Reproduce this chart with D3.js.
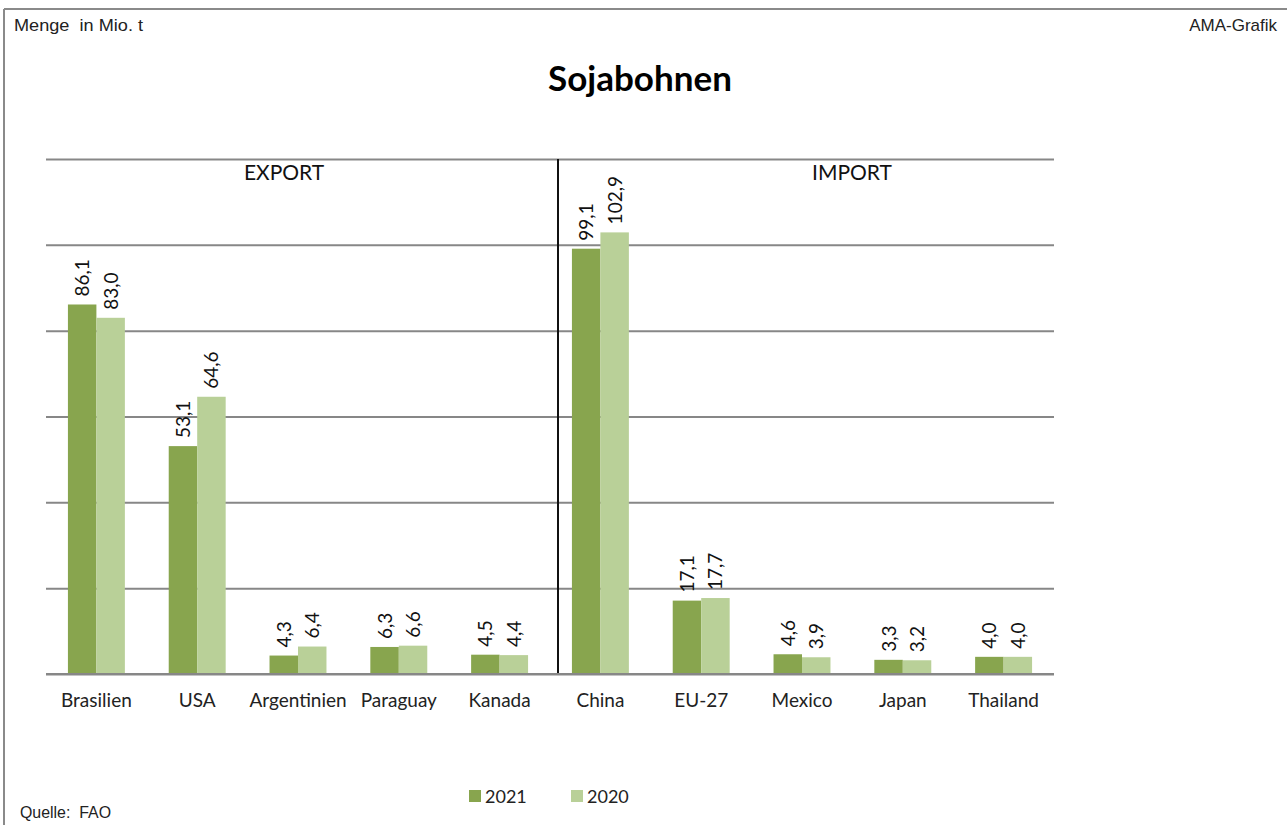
<!DOCTYPE html>
<html>
<head>
<meta charset="utf-8">
<script src="https://cdn.jsdelivr.net/npm/d3@7"></script>
<style>
  html, body { margin: 0; padding: 0; background: #fff; }
  svg { display: block; }
</style>
</head>
<body>
<svg id="chart" width="1287" height="825"></svg>
<script>
// ---- data ----
const categories = ["Brasilien", "USA", "Argentinien", "Paraguay", "Kanada",
                    "China", "EU-27", "Mexico", "Japan", "Thailand"];
const values2021 = [86.1, 53.1, 4.3, 6.3, 4.5, 99.1, 17.1, 4.6, 3.3, 4.0];
const values2020 = [83.0, 64.6, 6.4, 6.6, 4.4, 102.9, 17.7, 3.9, 3.2, 4.0];
const seriesNames = ["2021", "2020"];
const yTicks = [0, 20, 40, 60, 80, 100, 120];
const groupLabels = ["EXPORT", "IMPORT"];

const colors = { "2021": "#88a54e", "2020": "#b9d098" };
const fmt = v => v.toFixed(1).replace(".", ",");
const FONT = "Lato, 'Open Sans', sans-serif";
const ARIAL = "'Liberation Sans', Arial, sans-serif";

const svg = d3.select("#chart");

// frame
svg.append("line").attr("x1", 4).attr("x2", 1287).attr("y1", 9).attr("y2", 9)
  .attr("stroke", "#8a8a8a").attr("stroke-width", 2);
svg.append("line").attr("x1", 4).attr("x2", 4).attr("y1", 9).attr("y2", 825)
  .attr("stroke", "#8a8a8a").attr("stroke-width", 2);

// header texts
svg.append("text").attr("x", 14).attr("y", 31).attr("xml:space", "preserve").text("Menge  in Mio. t")
  .attr("font-family", ARIAL).attr("font-size", 17).attr("fill", "#222")
  .attr("textLength", 129).attr("lengthAdjust", "spacingAndGlyphs");
svg.append("text").attr("x", 1277).attr("y", 31).attr("text-anchor", "end").text("AMA-Grafik")
  .attr("font-family", ARIAL).attr("font-size", 17).attr("fill", "#222");
svg.append("text").attr("x", 640).attr("y", 91).attr("text-anchor", "middle").text("Sojabohnen")
  .attr("font-family", FONT).attr("font-weight", "bold").attr("font-size", 35).attr("fill", "#000");
svg.append("text").attr("x", 20).attr("y", 818).attr("xml:space", "preserve").text("Quelle:  FAO")
  .attr("font-family", ARIAL).attr("font-size", 16).attr("fill", "#222")
  .attr("textLength", 91).attr("lengthAdjust", "spacingAndGlyphs");

// scales
const plot = { left: 46, right: 1054, top: 159, bottom: 674 };
const x = d3.scaleBand().domain(categories).range([plot.left, plot.right]).paddingInner(0).paddingOuter(0);
const x1 = d3.scaleBand().domain(seriesNames).range([0, x.bandwidth()]).paddingOuter(0.77).paddingInner(0);
const y = d3.scaleLinear().domain([0, 120]).range([plot.bottom, plot.top]);

// gridlines via axis
const yAxis = d3.axisLeft(y).tickValues(yTicks).tickSize(-(plot.right - plot.left)).tickFormat("");
const gy = svg.append("g").attr("transform", `translate(${plot.left},0)`).call(yAxis);
gy.select(".domain").remove();
gy.selectAll(".tick line").attr("stroke", "#878787").attr("stroke-width", 2);

// divider between export and import
const divX = x("China") + 8;
svg.append("line").attr("x1", divX).attr("x2", divX).attr("y1", y(120)).attr("y2", y(0))
  .attr("stroke", "#111").attr("stroke-width", 2);

// group labels
svg.append("text").attr("x", 284).attr("y", 180).attr("text-anchor", "middle").text(groupLabels[0])
  .attr("font-family", FONT).attr("font-size", 21).attr("fill", "#111");
svg.append("text").attr("x", 852).attr("y", 180).attr("text-anchor", "middle").text(groupLabels[1])
  .attr("font-family", FONT).attr("font-size", 21).attr("fill", "#111");

// bars
const rows = categories.map((c, i) => ({ cat: c, vals: [
  { s: "2021", v: values2021[i] }, { s: "2020", v: values2020[i] } ] }));

const groups = svg.append("g").selectAll("g").data(rows).join("g")
  .attr("transform", d => `translate(${x(d.cat)},0)`);

groups.selectAll("rect").data(d => d.vals).join("rect")
  .attr("x", d => x1(d.s))
  .attr("y", d => y(d.v))
  .attr("width", x1.bandwidth())
  .attr("height", d => y(0) - y(d.v))
  .attr("fill", d => colors[d.s]);

groups.selectAll("text.val").data(d => d.vals).join("text")
  .attr("class", "val")
  .attr("transform", d => `translate(${x1(d.s) + x1.bandwidth() / 2 + 7},${y(d.v) - 8}) rotate(-90)`)
  .attr("text-anchor", "start")
  .text(d => fmt(d.v))
  .attr("font-family", FONT).attr("font-size", 19).attr("fill", "#111");

// baseline
svg.append("line").attr("x1", plot.left).attr("x2", plot.right).attr("y1", y(0)).attr("y2", y(0))
  .attr("stroke", "#878787").attr("stroke-width", 2);

// category axis labels
const xAxis = d3.axisBottom(x).tickSize(0).tickPadding(20);
const gx = svg.append("g").attr("transform", `translate(0,${plot.bottom})`).call(xAxis);
gx.select(".domain").remove();
gx.selectAll("text").attr("font-family", FONT).attr("font-size", 19).attr("fill", "#222");

// legend
const legend = svg.append("g").attr("transform", "translate(469,789)");
const legX = d3.scalePoint().domain(seriesNames).range([0, 102]);
const li = legend.selectAll("g").data(seriesNames).join("g").attr("transform", d => `translate(${legX(d)},0)`);
li.append("rect").attr("width", 12).attr("height", 12).attr("y", 1).attr("fill", d => colors[d]);
li.append("text").attr("x", 16).attr("y", 14).text(d => d)
  .attr("font-family", FONT).attr("font-size", 18).attr("fill", "#222");
</script>
</body>
</html>
